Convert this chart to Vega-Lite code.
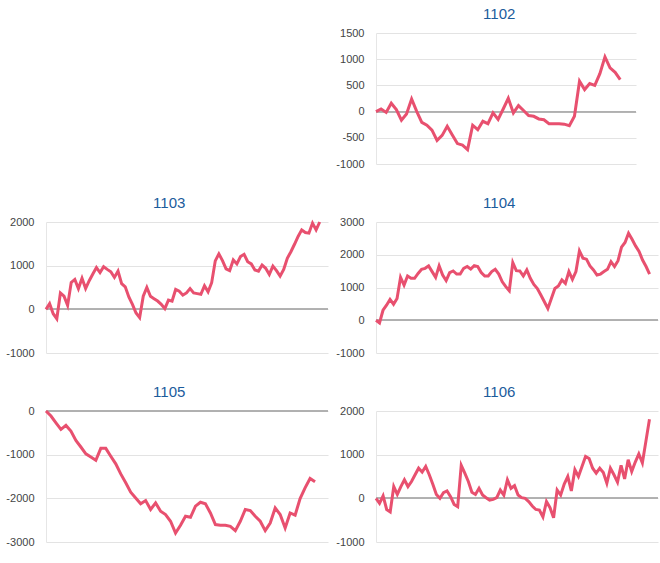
{
  "$schema": "https://vega.github.io/schema/vega-lite/v6.json",
  "padding": {"top": 7, "left": 5, "right": 5, "bottom": 5},
  "background": "white",
  "datasets": {
    "p1102": [
      {"i":0,"v":0},{"i":1,"v":50},{"i":2,"v":-15},{"i":3,"v":160},{"i":4,"v":40},{"i":5,"v":-165},{"i":6,"v":-45},{"i":7,"v":240},{"i":8,"v":5},{"i":9,"v":-205},
      {"i":10,"v":-260},{"i":11,"v":-355},{"i":12,"v":-550},{"i":13,"v":-455},{"i":14,"v":-280},{"i":15,"v":-445},{"i":16,"v":-610},{"i":17,"v":-640},{"i":18,"v":-725},{"i":19,"v":-260},
      {"i":20,"v":-345},{"i":21,"v":-185},{"i":22,"v":-230},{"i":23,"v":-25},{"i":24,"v":-150},{"i":25,"v":50},{"i":26,"v":255},{"i":27,"v":-25},{"i":28,"v":115},{"i":29,"v":20},
      {"i":30,"v":-75},{"i":31,"v":-90},{"i":32,"v":-140},{"i":33,"v":-155},{"i":34,"v":-230},{"i":35,"v":-230},{"i":36,"v":-230},{"i":37,"v":-240},{"i":38,"v":-270},{"i":39,"v":-90},
      {"i":40,"v":580},{"i":41,"v":420},{"i":42,"v":535},{"i":43,"v":500},{"i":44,"v":725},{"i":45,"v":1045},{"i":46,"v":835},{"i":47,"v":750},{"i":48,"v":610}
    ],
    "p1103": [
      {"i":0,"v":0},{"i":1,"v":130},{"i":2,"v":-100},{"i":3,"v":-215},{"i":4,"v":375},{"i":5,"v":300},{"i":6,"v":90},{"i":7,"v":615},{"i":8,"v":685},{"i":9,"v":475},
      {"i":10,"v":710},{"i":11,"v":475},{"i":12,"v":655},{"i":13,"v":810},{"i":14,"v":955},{"i":15,"v":840},{"i":16,"v":975},{"i":17,"v":915},{"i":18,"v":860},{"i":19,"v":730},
      {"i":20,"v":875},{"i":21,"v":590},{"i":22,"v":515},{"i":23,"v":285},{"i":24,"v":115},{"i":25,"v":-85},{"i":26,"v":-190},{"i":27,"v":300},{"i":28,"v":500},{"i":29,"v":300},
      {"i":30,"v":245},{"i":31,"v":190},{"i":32,"v":115},{"i":33,"v":15},{"i":34,"v":210},{"i":35,"v":185},{"i":36,"v":455},{"i":37,"v":415},{"i":38,"v":325},{"i":39,"v":375},
      {"i":40,"v":475},{"i":41,"v":375},{"i":42,"v":360},{"i":43,"v":345},{"i":44,"v":540},{"i":45,"v":400},{"i":46,"v":610},{"i":47,"v":1110},{"i":48,"v":1270},{"i":49,"v":1115},
      {"i":50,"v":925},{"i":51,"v":885},{"i":52,"v":1130},{"i":53,"v":1040},{"i":54,"v":1210},{"i":55,"v":1260},{"i":56,"v":1090},{"i":57,"v":1040},{"i":58,"v":900},{"i":59,"v":875},
      {"i":60,"v":1015},{"i":61,"v":940},{"i":62,"v":800},{"i":63,"v":990},{"i":64,"v":885},{"i":65,"v":760},{"i":66,"v":915},{"i":67,"v":1170},{"i":68,"v":1320},{"i":69,"v":1490},
      {"i":70,"v":1670},{"i":71,"v":1820},{"i":72,"v":1760},{"i":73,"v":1745},{"i":74,"v":1975},{"i":75,"v":1820},{"i":76,"v":2000}
    ],
    "p1104": [
      {"i":0,"v":0},{"i":1,"v":-80},{"i":2,"v":305},{"i":3,"v":460},{"i":4,"v":635},{"i":5,"v":490},{"i":6,"v":665},{"i":7,"v":1310},{"i":8,"v":1075},{"i":9,"v":1350},
      {"i":10,"v":1280},{"i":11,"v":1280},{"i":12,"v":1430},{"i":13,"v":1555},{"i":14,"v":1585},{"i":15,"v":1660},{"i":16,"v":1485},{"i":17,"v":1310},{"i":18,"v":1660},{"i":19,"v":1380},
      {"i":20,"v":1210},{"i":21,"v":1455},{"i":22,"v":1505},{"i":23,"v":1410},{"i":24,"v":1410},{"i":25,"v":1585},{"i":26,"v":1640},{"i":27,"v":1565},{"i":28,"v":1670},{"i":29,"v":1640},
      {"i":30,"v":1455},{"i":31,"v":1350},{"i":32,"v":1350},{"i":33,"v":1485},{"i":34,"v":1555},{"i":35,"v":1410},{"i":36,"v":1175},{"i":37,"v":1025},{"i":38,"v":900},{"i":39,"v":1760},
      {"i":40,"v":1515},{"i":41,"v":1505},{"i":42,"v":1350},{"i":43,"v":1535},{"i":44,"v":1280},{"i":45,"v":1095},{"i":46,"v":970},{"i":47,"v":770},{"i":48,"v":565},{"i":49,"v":360},
      {"i":50,"v":665},{"i":51,"v":970},{"i":52,"v":1045},{"i":53,"v":1230},{"i":54,"v":1125},{"i":55,"v":1485},{"i":56,"v":1250},{"i":57,"v":1485},{"i":58,"v":2120},{"i":59,"v":1895},
      {"i":60,"v":1865},{"i":61,"v":1660},{"i":62,"v":1535},{"i":63,"v":1380},{"i":64,"v":1410},{"i":65,"v":1485},{"i":66,"v":1555},{"i":67,"v":1790},{"i":68,"v":1640},{"i":69,"v":1820},
      {"i":70,"v":2230},{"i":71,"v":2375},{"i":72,"v":2660},{"i":73,"v":2475},{"i":74,"v":2270},{"i":75,"v":2100},{"i":76,"v":1840},{"i":77,"v":1640},{"i":78,"v":1410}
    ],
    "p1105": [
      {"i":0,"v":0},{"i":1,"v":-115},{"i":2,"v":-270},{"i":3,"v":-420},{"i":4,"v":-330},{"i":5,"v":-460},{"i":6,"v":-675},{"i":7,"v":-825},{"i":8,"v":-980},{"i":9,"v":-1055},
      {"i":10,"v":-1130},{"i":11,"v":-855},{"i":12,"v":-855},{"i":13,"v":-1035},{"i":14,"v":-1210},{"i":15,"v":-1440},{"i":16,"v":-1645},{"i":17,"v":-1860},{"i":18,"v":-1990},{"i":19,"v":-2125},
      {"i":20,"v":-2050},{"i":21,"v":-2255},{"i":22,"v":-2105},{"i":23,"v":-2295},{"i":24,"v":-2370},{"i":25,"v":-2525},{"i":26,"v":-2795},{"i":27,"v":-2615},{"i":28,"v":-2410},{"i":29,"v":-2435},
      {"i":30,"v":-2180},{"i":31,"v":-2090},{"i":32,"v":-2125},{"i":33,"v":-2335},{"i":34,"v":-2600},{"i":35,"v":-2615},{"i":36,"v":-2615},{"i":37,"v":-2640},{"i":38,"v":-2740},{"i":39,"v":-2525},
      {"i":40,"v":-2255},{"i":41,"v":-2280},{"i":42,"v":-2410},{"i":43,"v":-2525},{"i":44,"v":-2740},{"i":45,"v":-2565},{"i":46,"v":-2220},{"i":47,"v":-2370},{"i":48,"v":-2680},{"i":49,"v":-2335},
      {"i":50,"v":-2385},{"i":51,"v":-2005},{"i":52,"v":-1760},{"i":53,"v":-1545},{"i":54,"v":-1620}
    ],
    "p1106": [
      {"i":0,"v":0},{"i":1,"v":-115},{"i":2,"v":55},{"i":3,"v":-255},{"i":4,"v":-310},{"i":5,"v":270},{"i":6,"v":90},{"i":7,"v":270},{"i":8,"v":425},{"i":9,"v":270},
      {"i":10,"v":385},{"i":11,"v":540},{"i":12,"v":690},{"i":13,"v":600},{"i":14,"v":730},{"i":15,"v":540},{"i":16,"v":325},{"i":17,"v":90},{"i":18,"v":0},{"i":19,"v":130},
      {"i":20,"v":170},{"i":21,"v":40},{"i":22,"v":-140},{"i":23,"v":-190},{"i":24,"v":755},{"i":25,"v":575},{"i":26,"v":385},{"i":27,"v":140},{"i":28,"v":90},{"i":29,"v":230},
      {"i":30,"v":75},{"i":31,"v":15},{"i":32,"v":-40},{"i":33,"v":-25},{"i":34,"v":15},{"i":35,"v":190},{"i":36,"v":75},{"i":37,"v":425},{"i":38,"v":230},{"i":39,"v":290},
      {"i":40,"v":75},{"i":41,"v":15},{"i":42,"v":0},{"i":43,"v":-75},{"i":44,"v":-175},{"i":45,"v":-255},{"i":46,"v":-270},{"i":47,"v":-425},{"i":48,"v":-75},{"i":49,"v":-215},
      {"i":50,"v":-445},{"i":51,"v":190},{"i":52,"v":75},{"i":53,"v":325},{"i":54,"v":500},{"i":55,"v":170},{"i":56,"v":655},{"i":57,"v":500},{"i":58,"v":730},{"i":59,"v":960},
      {"i":60,"v":910},{"i":61,"v":690},{"i":62,"v":575},{"i":63,"v":690},{"i":64,"v":590},{"i":65,"v":345},{"i":66,"v":690},{"i":67,"v":540},{"i":68,"v":370},{"i":69,"v":755},
      {"i":70,"v":445},{"i":71,"v":885},{"i":72,"v":615},{"i":73,"v":830},{"i":74,"v":1015},{"i":75,"v":810},{"i":76,"v":1310},{"i":77,"v":1810}
    ]
  },
  "columns": 2,
  "bounds": "flush",
  "spacing": {"row": 58, "column": 48},
  "concat": [
    {"width": 282, "height": 131, "data": {"values": []}, "mark": {"type": "point", "opacity": 0}},
    {
      "title": {"text": "1102", "dx": 13},
      "width": 260, "height": 131,
      "data": {"name": "p1102"},
      "layer": [
        {"mark": {"type": "rule", "color": "#b0b0b0", "strokeWidth": 1}, "encoding": {"y": {"datum": 0, "type": "quantitative", "scale": {"domain": [-1000, 1500], "nice": false}, "axis": {"values": [-1000, -500, 0, 500, 1000, 1500], "title": null}}}},
        {"mark": {"type": "line", "color": "#e8506f", "strokeWidth": 3}, "encoding": {"x": {"field": "i", "type": "quantitative", "scale": {"domain": [0, 51.1], "nice": false, "zero": false}, "axis": null}, "y": {"field": "v", "type": "quantitative", "scale": {"domain": [-1000, 1500], "nice": false}, "axis": {"values": [-1000, -500, 0, 500, 1000, 1500], "title": null}}}}
      ]
    },
    {
      "title": {"text": "1103", "dx": 2},
      "width": 282, "height": 131,
      "data": {"name": "p1103"},
      "layer": [
        {"mark": {"type": "rule", "color": "#b0b0b0", "strokeWidth": 1}, "encoding": {"y": {"datum": 0, "type": "quantitative", "scale": {"domain": [-1000, 2000], "nice": false}, "axis": {"values": [-1000, 0, 1000, 2000], "title": null}}}},
        {"mark": {"type": "line", "color": "#e8506f", "strokeWidth": 3}, "encoding": {"x": {"field": "i", "type": "quantitative", "scale": {"domain": [0, 78.3], "nice": false, "zero": false}, "axis": null}, "y": {"field": "v", "type": "quantitative", "scale": {"domain": [-1000, 2000], "nice": false}, "axis": {"values": [-1000, 0, 1000, 2000], "title": null}}}}
      ]
    },
    {
      "title": {"text": "1104", "dx": 2},
      "width": 282, "height": 131,
      "data": {"name": "p1104"},
      "layer": [
        {"mark": {"type": "rule", "color": "#b0b0b0", "strokeWidth": 1}, "encoding": {"y": {"datum": 0, "type": "quantitative", "scale": {"domain": [-1000, 3000], "nice": false}, "axis": {"values": [-1000, 0, 1000, 2000, 3000], "title": null}}}},
        {"mark": {"type": "line", "color": "#e8506f", "strokeWidth": 3}, "encoding": {"x": {"field": "i", "type": "quantitative", "scale": {"domain": [0, 80.4], "nice": false, "zero": false}, "axis": null}, "y": {"field": "v", "type": "quantitative", "scale": {"domain": [-1000, 3000], "nice": false}, "axis": {"values": [-1000, 0, 1000, 2000, 3000], "title": null}}}}
      ]
    },
    {
      "title": {"text": "1105", "dx": 2},
      "width": 282, "height": 131,
      "data": {"name": "p1105"},
      "layer": [
        {"mark": {"type": "rule", "color": "#b0b0b0", "strokeWidth": 1}, "encoding": {"y": {"datum": 0, "type": "quantitative", "scale": {"domain": [-3000, 0], "nice": false}, "axis": {"values": [-3000, -2000, -1000, 0], "title": null}}}},
        {"mark": {"type": "line", "color": "#e8506f", "strokeWidth": 3}, "encoding": {"x": {"field": "i", "type": "quantitative", "scale": {"domain": [0, 56.6], "nice": false, "zero": false}, "axis": null}, "y": {"field": "v", "type": "quantitative", "scale": {"domain": [-3000, 0], "nice": false}, "axis": {"values": [-3000, -2000, -1000, 0], "title": null}}}}
      ]
    },
    {
      "title": {"text": "1106", "dx": 2},
      "width": 282, "height": 131,
      "data": {"name": "p1106"},
      "layer": [
        {"mark": {"type": "rule", "color": "#b0b0b0", "strokeWidth": 1}, "encoding": {"y": {"datum": 0, "type": "quantitative", "scale": {"domain": [-1000, 2000], "nice": false}, "axis": {"values": [-1000, 0, 1000, 2000], "title": null}}}},
        {"mark": {"type": "line", "color": "#e8506f", "strokeWidth": 3}, "encoding": {"x": {"field": "i", "type": "quantitative", "scale": {"domain": [0, 79.4], "nice": false, "zero": false}, "axis": null}, "y": {"field": "v", "type": "quantitative", "scale": {"domain": [-1000, 2000], "nice": false}, "axis": {"values": [-1000, 0, 1000, 2000], "title": null}}}}
      ]
    }
  ],
  "config": {
    "font": "Liberation Sans",
    "view": {"stroke": null},
    "axis": {
      "grid": true,
      "gridColor": "#e3e3e3",
      "domain": true,
      "domainColor": "#e6e6e6",
      "ticks": false,
      "tickSize": 0,
      "labelPadding": 12,
      "labelFont": "Liberation Sans",
      "labelFontSize": 11,
      "labelColor": "#444444",
      "labelExpr": "'' + datum.value"
    },
    "title": {
      "font": "Liberation Sans",
      "fontSize": 15,
      "fontWeight": "normal",
      "color": "#1c5c9c",
      "anchor": "middle",
      "frame": "bounds",
      "offset": 5
    }
  }
}
